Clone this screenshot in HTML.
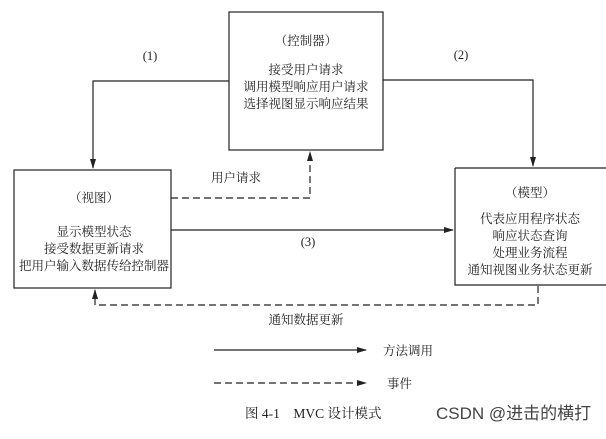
<!DOCTYPE html>
<html><head><meta charset="utf-8"><style>
body{margin:0;background:#fff;width:606px;height:434px;overflow:hidden}
svg text{font-family:"Liberation Serif","Noto Serif CJK SC",serif;font-size:12.5px;fill:#222}
</style></head><body>
<svg width="606" height="434" viewBox="0 0 606 434" xmlns="http://www.w3.org/2000/svg">
<defs><marker id="a" markerWidth="10" markerHeight="8" refX="9" refY="4" orient="auto" markerUnits="userSpaceOnUse"><path d="M0,1 L10,4 L0,7 z" fill="#222"/></marker></defs>
<g fill="none" stroke="#222" stroke-width="1.2">
<rect x="229" y="12" width="154" height="138"/>
<rect x="14" y="170" width="157" height="118"/>
<path d="M455,168 H606 M455,168 V285 H606"/>
<path d="M229,81 H93 V168" marker-end="url(#a)"/>
<path d="M383,80 H533 V166" marker-end="url(#a)"/>
<path d="M171,230 H453" marker-end="url(#a)"/>
<path d="M171,198 H310 V152" stroke-dasharray="7,4" marker-end="url(#a)"/>
<path d="M538,286 V305 H95 V290" stroke-dasharray="7,4" marker-end="url(#a)"/>
<path d="M214,350 H366" marker-end="url(#a)"/>
<path d="M214,383 H366" stroke-dasharray="7,4" marker-end="url(#a)"/>
</g>
<g text-anchor="middle">
<text x="306" y="45">（控制器）</text>
<text x="306" y="74">接受用户请求</text>
<text x="306" y="91">调用模型响应用户请求</text>
<text x="306" y="108">选择视图显示响应结果</text>
<text x="94" y="202">（视图）</text>
<text x="94" y="236">显示模型状态</text>
<text x="94" y="253">接受数据更新请求</text>
<text x="94" y="270">把用户输入数据传给控制器</text>
<text x="530" y="197">（模型）</text>
<text x="530" y="223">代表应用程序状态</text>
<text x="530" y="240">响应状态查询</text>
<text x="530" y="257">处理业务流程</text>
<text x="530" y="274">通知视图业务状态更新</text>
<text x="150" y="60">(1)</text>
<text x="461" y="59">(2)</text>
<text x="308" y="246">(3)</text>
<text x="236" y="182">用户请求</text>
<text x="306" y="324">通知数据更新</text>
</g>
<text x="383" y="355">方法调用</text>
<text x="387" y="388">事件</text>
<text x="245" y="418" style="font-size:13.5px">图 4-1　MVC 设计模式</text>
<text x="436" y="419" style="font-family:'Liberation Sans','Noto Sans CJK SC',sans-serif;font-size:17px;fill:#444">CSDN @进击的横打</text>
</svg>
</body></html>
